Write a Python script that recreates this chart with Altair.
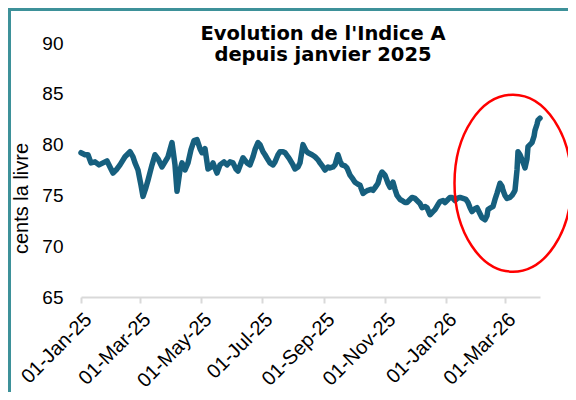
import altair as alt
import pandas as pd

dates = [
    "2025-01-01", "2025-01-05", "2025-01-08", "2025-01-11", "2025-01-15", "2025-01-19", "2025-01-23", "2025-01-27", "2025-01-30",
    "2025-02-02", "2025-02-06", "2025-02-09", "2025-02-14", "2025-02-19", "2025-02-22", "2025-02-24", "2025-02-27",
    "2025-03-02", "2025-03-04", "2025-03-07", "2025-03-09", "2025-03-13", "2025-03-16", "2025-03-19", "2025-03-23", "2025-03-26", "2025-03-29",
    "2025-04-02", "2025-04-05", "2025-04-07", "2025-04-10", "2025-04-12", "2025-04-15", "2025-04-18", "2025-04-21", "2025-04-24", "2025-04-27", "2025-04-30",
    "2025-05-02", "2025-05-05", "2025-05-08", "2025-05-11", "2025-05-13", "2025-05-17", "2025-05-20", "2025-05-24", "2025-05-27", "2025-05-30",
    "2025-06-02", "2025-06-05", "2025-06-07", "2025-06-12", "2025-06-16", "2025-06-19", "2025-06-22", "2025-06-24", "2025-06-27", "2025-06-29",
    "2025-07-02", "2025-07-04", "2025-07-07", "2025-07-09", "2025-07-12", "2025-07-14", "2025-07-17", "2025-07-19", "2025-07-22", "2025-07-24", "2025-07-27", "2025-07-29",
    "2025-08-01", "2025-08-03", "2025-08-06", "2025-08-08", "2025-08-11", "2025-08-14", "2025-08-16", "2025-08-20", "2025-08-23", "2025-08-26", "2025-08-28", "2025-08-31",
    "2025-09-02", "2025-09-05", "2025-09-07", "2025-09-10", "2025-09-12", "2025-09-15", "2025-09-17", "2025-09-19", "2025-09-22", "2025-09-24", "2025-09-27", "2025-09-30",
    "2025-10-02", "2025-10-05", "2025-10-07", "2025-10-10", "2025-10-13", "2025-10-15", "2025-10-18", "2025-10-20", "2025-10-23", "2025-10-25", "2025-10-27", "2025-10-29",
    "2025-11-01", "2025-11-04", "2025-11-06", "2025-11-09", "2025-11-11", "2025-11-13", "2025-11-16", "2025-11-18", "2025-11-21", "2025-11-23", "2025-11-26", "2025-11-28",
    "2025-12-01", "2025-12-03", "2025-12-06", "2025-12-08", "2025-12-11", "2025-12-13", "2025-12-16", "2025-12-19", "2025-12-21", "2025-12-24", "2025-12-26", "2025-12-29", "2025-12-31",
    "2026-01-03", "2026-01-05", "2026-01-07", "2026-01-10", "2026-01-12", "2026-01-15", "2026-01-18", "2026-01-21", "2026-01-23", "2026-01-25", "2026-01-27", "2026-01-30",
    "2026-02-01", "2026-02-04", "2026-02-06", "2026-02-09", "2026-02-11", "2026-02-12", "2026-02-15", "2026-02-17", "2026-02-19", "2026-02-21", "2026-02-24", "2026-02-26", "2026-02-27",
    "2026-03-01", "2026-03-03", "2026-03-06", "2026-03-08", "2026-03-10", "2026-03-11", "2026-03-13", "2026-03-14", "2026-03-16", "2026-03-18", "2026-03-20", "2026-03-21",
    "2026-03-23", "2026-03-24", "2026-03-26", "2026-03-28", "2026-03-30", "2026-03-31", "2026-04-02", "2026-04-03", "2026-04-05",
]

values = [
    79.2, 79.0, 79.0, 78.2, 78.3, 78.0, 78.2, 78.4, 77.8,
    77.2, 77.6, 78.0, 78.8, 79.3, 78.8, 78.2, 77.5,
    76.0, 74.9, 75.8, 76.5, 78.0, 79.0, 78.6, 77.8, 78.3, 78.8,
    80.2, 78.0, 75.4, 77.5, 78.2, 77.5, 78.2, 79.5, 80.4, 80.5, 79.6,
    79.2, 79.6, 77.6, 77.8, 78.2, 77.2, 78.0, 78.3, 78.0, 78.3,
    78.2, 77.6, 77.4, 78.7, 78.2, 78.0, 78.8, 79.5, 80.2, 80.0,
    79.3, 79.0, 78.5, 78.2, 78.0, 78.3, 79.0, 79.3, 79.3, 79.2, 78.8, 78.5,
    78.0, 77.6, 77.8, 78.2, 80.0, 79.4, 79.2, 79.0, 78.8, 78.5, 78.2, 77.8,
    77.5, 77.8, 77.7, 77.8, 78.0, 79.0, 78.4, 78.0, 77.9, 77.7, 77.0, 76.6,
    76.3, 76.1, 76.0, 75.2, 75.4, 75.5, 75.6, 75.5, 75.9, 76.2, 76.9, 77.3,
    77.0, 76.2, 75.8, 76.3, 75.6, 75.0, 74.6, 74.5, 74.3, 74.3, 74.6, 74.8,
    74.7, 74.5, 74.2, 73.8, 73.9, 73.8, 73.1, 73.4, 73.6, 74.1, 74.4, 74.5, 74.3,
    74.6, 74.8, 74.8, 74.5, 74.7, 74.8, 74.7, 74.6, 74.3, 73.8, 73.4, 73.7,
    73.8, 73.2, 72.8, 72.6, 73.0, 73.6, 73.8, 73.9, 74.6, 75.2, 76.2, 75.9, 75.5,
    75.0, 74.7, 74.8, 75.0, 75.3, 75.5, 77.5, 79.3, 79.0, 78.5, 78.0, 77.7,
    78.6, 79.8, 80.0, 80.2, 80.8, 81.4, 82.0, 82.4, 82.6,
]

tick_dates = ["2025-01-01", "2025-03-01", "2025-05-01", "2025-07-01",
              "2025-09-01", "2025-11-01", "2026-01-01", "2026-03-01"]
y_ticks = [65, 70, 75, 80, 85, 90]

title_lines = "Evolution de l'Indice A\ndepuis janvier 2025"
y_title = "cents la livre"

# annotation ellipse centre (date, value)
highlight_date = ["2026-03-09"]
highlight_value = [76.2]

df = pd.DataFrame({"date": dates, "value": values})
hl = pd.DataFrame({"date": highlight_date, "value": highlight_value})


def dt(s):
    y, m, d = (int(p) for p in s.split("-"))
    return alt.DateTime(year=y, month=m, date=d, utc=True)


W, H = 459, 254
PL, PT, PR, PB = 73, 35, 28, 95

x_scale = alt.Scale(type="utc", domain=[dt(dates[0]), dt(dates[-1])], nice=False)
y_scale = alt.Scale(domain=[65, 90], nice=False, zero=False)

x_axis = alt.Axis(
    values=[dt(s) for s in tick_dates],
    labelExpr="utcFormat(datum.value, '%d-%b-%y')",
    labelAngle=-45, labelFontSize=20, labelColor="#000000", labelFont="Liberation Sans",
    labelPadding=6, domainColor="#d9d9d9", domainWidth=2, tickColor="#d9d9d9",
    tickWidth=2, tickSize=6, grid=False, title=None, labelOverlap=False,
)
y_axis = alt.Axis(
    values=y_ticks, labelFontSize=19, labelColor="#000000", labelFont="Liberation Sans",
    labelPadding=18, domain=False, ticks=False, grid=False,
    title=y_title, titleFont="Liberation Sans", titleFontSize=20, titleFontWeight="normal",
    titleColor="#000000", titleX=-50, titleY=155, titleAngle=-90, titleBaseline="bottom",
    titleAlign="center",
)

line = alt.Chart(df).mark_line(
    color="#165f7e", strokeWidth=5.5, strokeJoin="round", strokeCap="round"
).encode(
    x=alt.X("date:T", scale=x_scale, axis=x_axis),
    y=alt.Y("value:Q", scale=y_scale, axis=y_axis),
)

ellipse = alt.Chart(hl).mark_point(
    shape="M -0.661 0 A 0.661 1 0 1 1 0.661 0 A 0.661 1 0 1 1 -0.661 0 Z",
    size=177 * 177, filled=False, stroke="#ff0000", strokeWidth=2.5, opacity=1,
).encode(
    x=alt.X("date:T", scale=x_scale),
    y=alt.Y("value:Q", scale=y_scale),
)

title = alt.Chart(hl).mark_text(
    text=title_lines, lineBreak="\n", font="DejaVu Sans", fontWeight="bold",
    fontSize=19.5, lineHeight=21, align="center", baseline="alphabetic", color="#000000",
).encode(x=alt.value(242), y=alt.value(-3))

border_top = alt.Chart(hl).mark_rule(color="#3d9199", strokeWidth=3).encode(
    x=alt.value(-PL), x2=alt.value(W + PR), y=alt.value(-PT + 1.5)
)
border_left = alt.Chart(hl).mark_rule(color="#3d9199", strokeWidth=3).encode(
    x=alt.value(-PL + 1.5), y=alt.value(-PT), y2=alt.value(H + PB)
)

chart = alt.layer(line, ellipse, title, border_top, border_left).properties(
    width=W, height=H,
    autosize=alt.AutoSizeParams(type="none"),
    padding={"left": PL, "top": PT, "right": PR, "bottom": PB},
    background="#ffffff",
).configure_view(stroke=None)

chart.save("out.html", embed_options={"renderer": "svg", "actions": False})
